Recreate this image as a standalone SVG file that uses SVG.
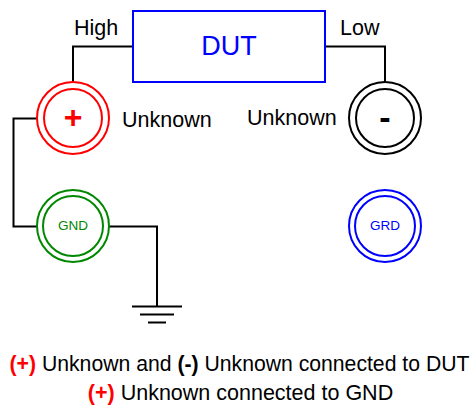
<svg xmlns="http://www.w3.org/2000/svg" width="471" height="406" viewBox="0 0 471 406">
<style>
text{font-family:"Liberation Sans",Arial,sans-serif;fill:#000}
.w{fill:none;stroke:#000;stroke-width:2}
.r{fill:none;stroke-width:2}
.lbl{font-size:21.5px}
.c{text-anchor:middle}
.small{font-size:13.5px}
.red{fill:#f00}
</style>
<rect width="471" height="406" fill="#fff"/>
<g id="connectors">
<path class="w" d="M133 46.500H73V82"/>
<path class="w" d="M325 46.500H385V82"/>
<path class="w" d="M37 118.500H13.500V226.500H37"/>
<path class="w" d="M109 226.500H157V306"/>
<path class="w" d="M132 306.500H182M140 314.500H174M148 322.500H166"/>
</g>
<g id="dut">
<rect class="r" x="133" y="11" width="192" height="71" stroke="#00f"/>
<text class="c" x="229" y="55" font-size="27" style="fill:#00f">DUT</text>
</g>
<g id="plus">
<circle class="r" cx="73" cy="118" r="36" stroke="#f00"/>
<circle class="r" cx="73" cy="118" r="29" stroke="#f00"/>
<text class="c red" x="73" y="128" font-size="32" font-weight="bold" style="fill:#f00">+</text>
</g>
<g id="minus">
<circle class="r" cx="385" cy="118" r="36" stroke="#000"/>
<circle class="r" cx="385" cy="118" r="29" stroke="#000"/>
<text class="c" x="385" y="129" font-size="34" font-weight="bold">-</text>
</g>
<g id="gnd">
<circle class="r" cx="73" cy="226" r="36" stroke="#080"/>
<circle class="r" cx="73" cy="226" r="30" stroke="#080"/>
<text class="c small" x="73" y="230" style="fill:#080">GND</text>
</g>
<g id="grd">
<circle class="r" cx="385" cy="226" r="36" stroke="#00f"/>
<circle class="r" cx="385" cy="226" r="30" stroke="#00f"/>
<text class="c small" x="385" y="230" style="fill:#00f">GRD</text>
</g>
<g id="labels">
<text class="lbl" x="74" y="35">High</text>
<text class="lbl" x="340" y="35">Low</text>
<text class="lbl" x="122" y="127">Unknown</text>
<text class="lbl" x="247" y="125">Unknown</text>
<text class="c" x="239.500" y="371" font-size="21.2"><tspan class="red" font-weight="bold">(+)</tspan> Unknown and <tspan font-weight="bold">(-)</tspan> Unknown connected to DUT</text>
<text class="lbl c" x="240.500" y="400"><tspan class="red" font-weight="bold">(+)</tspan> Unknown connected to GND</text>
</g>
</svg>
